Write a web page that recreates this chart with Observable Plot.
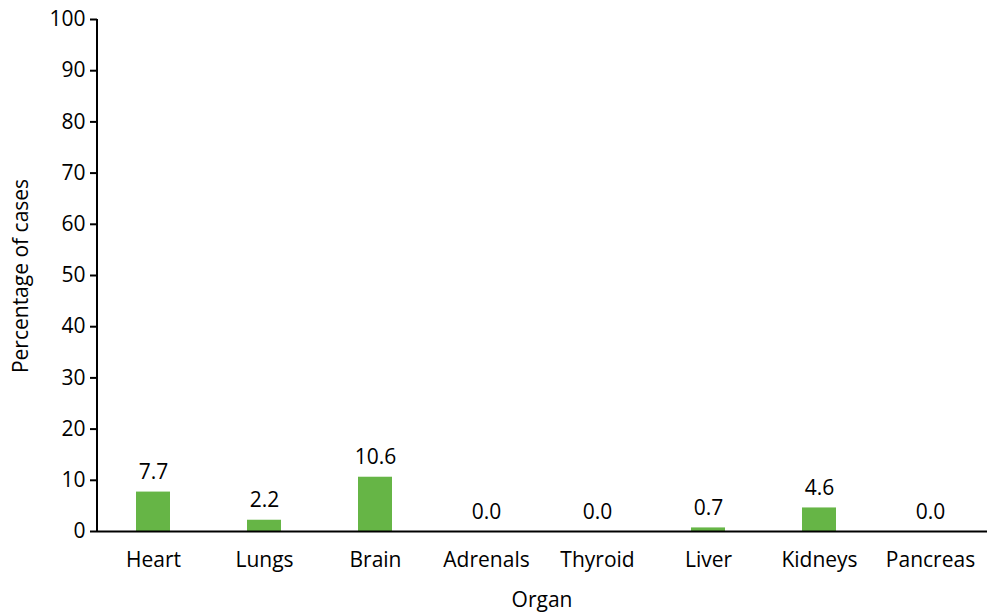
<!DOCTYPE html>
<html>
<head>
<meta charset="utf-8">
<script src="https://cdn.jsdelivr.net/npm/d3@7"></script>
<script src="https://cdn.jsdelivr.net/npm/@observablehq/plot@0.6"></script>
<style>
  body { margin: 0; background: #fff; }
  svg, svg text { font-family: "Open Sans", "Noto Sans", sans-serif; }
  svg text { font-size: 21px; }
</style>
</head>
<body>
<div id="chart"></div>
<script>
const organs = ["Heart", "Lungs", "Brain", "Adrenals", "Thyroid", "Liver", "Kidneys", "Pancreas"];
const percentages = [7.7, 2.2, 10.6, 0.0, 0.0, 0.7, 4.6, 0.0];
const yTicks = [0, 10, 20, 30, 40, 50, 60, 70, 80, 90, 100];

const data = organs.map((o, i) => ({organ: o, value: percentages[i]}));

const chart = Plot.plot({
  width: 989,
  height: 615,
  marginLeft: 97,
  marginRight: 2,
  marginTop: 19,
  marginBottom: 84,
  style: {fontSize: "21px", fontFamily: "'Open Sans', 'Noto Sans', sans-serif", color: "#000"},
  x: {domain: organs, paddingInner: 0.69, paddingOuter: 0.345, label: null},
  y: {domain: [0, 100], label: null},
  marks: [
    Plot.barY(data, {x: "organ", y: "value", fill: "#66b546"}),
    Plot.text(data, {x: "organ", y: "value", text: d => d.value.toFixed(1), lineAnchor: "bottom", dy: -13, fontSize: 21, fill: "#000"}),
    Plot.ruleY([0], {stroke: "#000", strokeWidth: 2}),
    Plot.axisY({ticks: yTicks, tickSize: 7, tickPadding: 5, label: null, fontSize: 21, strokeWidth: 2}),
    Plot.axisX({tickSize: 0, tickPadding: 21, label: null, fontSize: 21})
  ]
});

const svg = d3.select(chart);
svg.append("line")
  .attr("x1", 97).attr("x2", 97)
  .attr("y1", 19).attr("y2", 532)
  .attr("stroke", "#000").attr("stroke-width", 2);
svg.append("text")
  .attr("transform", "translate(28,276) rotate(-90)")
  .attr("text-anchor", "middle")
  .attr("fill", "#000")
  .text("Percentage of cases");
svg.append("text")
  .attr("x", 542).attr("y", 607)
  .attr("text-anchor", "middle")
  .attr("fill", "#000")
  .text("Organ");

document.getElementById("chart").appendChild(chart);
</script>
</body>
</html>
